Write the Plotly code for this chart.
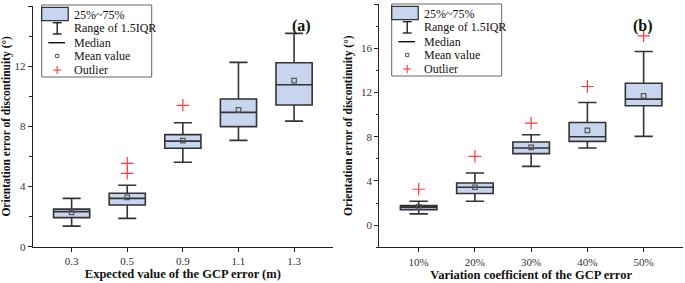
import plotly.graph_objects as go

# ---------------- data ----------------
cats_a = ["0.3", "0.5", "0.9", "1.1", "1.3"]
q1_a = [1.93, 2.77, 6.54, 7.98, 9.42]
med_a = [2.33, 3.21, 7.02, 8.93, 10.77]
q3_a = [2.50, 3.55, 7.45, 9.82, 12.23]
low_a = [1.37, 1.88, 5.61, 7.07, 8.35]
high_a = [3.21, 4.08, 8.24, 12.25, 14.18]
mean_a = [2.28, 3.28, 7.05, 9.09, 11.04]
out_x_a = ["0.5", "0.5", "0.9"]
out_y_a = [5.54, 4.88, 9.40]

cats_b = ["10%", "20%", "30%", "40%", "50%"]
q1_b = [1.41, 2.86, 6.47, 7.58, 10.80]
med_b = [1.62, 3.43, 6.98, 8.00, 11.40]
q3_b = [1.77, 3.82, 7.52, 9.29, 12.84]
low_b = [1.02, 2.17, 5.32, 6.98, 8.03]
high_b = [2.17, 4.72, 8.18, 11.10, 15.70]
mean_b = [1.65, 3.43, 7.04, 8.57, 11.70]
out_x_b = ["10%", "20%", "30%", "40%", "50%"]
out_y_b = [3.25, 6.23, 9.23, 12.54, 17.11]

legend_labels = ["25%~75%", "Range of 1.5IQR", "Median", "Mean value", "Outlier"]

# ---------------- style ----------------
FONT = "Liberation Serif, Times New Roman, serif"
BOX_FILL = "#c7d6ee"
BOX_LINE = "#333333"
RED = "#ff3b3b"
W, H = 685, 283

fig = go.Figure()


def add_panel(cats, q1, med, q3, low, high, mean, ox, oy, xa, ya):
    fig.add_trace(go.Box(
        x=cats, q1=q1, median=med, q3=q3, lowerfence=low, upperfence=high,
        fillcolor=BOX_FILL, line=dict(color=BOX_LINE, width=1.6),
        width=0.65, whiskerwidth=0.5, boxpoints=False,
        xaxis=xa, yaxis=ya, showlegend=False, hoverinfo="skip"))
    fig.add_trace(go.Scatter(
        x=cats, y=mean, mode="markers",
        marker=dict(symbol="square-open", size=4.5, color="#555555",
                    line=dict(width=1.2, color="#555555")),
        xaxis=xa, yaxis=ya, showlegend=False, hoverinfo="skip"))
    fig.add_trace(go.Scatter(
        x=ox, y=oy, mode="markers",
        marker=dict(symbol="cross-thin-open", size=9, color=RED,
                    line=dict(width=1.2, color=RED)),
        xaxis=xa, yaxis=ya, showlegend=False, hoverinfo="skip"))


add_panel(cats_a, q1_a, med_a, q3_a, low_a, high_a, mean_a, out_x_a, out_y_a, "x", "y")
add_panel(cats_b, q1_b, med_b, q3_b, low_b, high_b, mean_b, out_x_b, out_y_b, "x2", "y2")

axis_common = dict(
    showline=True, linecolor="#222222", linewidth=1.2, mirror=False,
    ticks="outside", ticklen=4, tickwidth=1, tickcolor="#222222",
    tickfont=dict(family=FONT, size=11, color="#333333"),
    showgrid=False, zeroline=False, automargin=False,
)


def xd(a, b):
    return [a / W, b / W]


def yd(top, bottom):
    return [(H - bottom) / H, (H - top) / H]


xtitle_font = dict(family=FONT, size=12.5, color="#111111")
ytitle_font = dict(family=FONT, size=11.5, color="#111111")

fig.update_layout(
    width=W, height=H,
    margin=dict(l=0, r=0, t=0, b=0),
    paper_bgcolor="white", plot_bgcolor="white",
    font=dict(family=FONT, color="#111111"),
    xaxis=dict(domain=xd(32.7, 333), range=[-0.7, 4.7], type="category",
               title=dict(text="<b>Expected value of the GCP error (m)</b>",
                          font=xtitle_font, standoff=3),
               anchor="y", **axis_common),
    yaxis=dict(domain=yd(6, 246.7), range=[0, 16], dtick=4,
               minor=dict(dtick=2, ticks="outside", ticklen=2.5, tickcolor="#222222"),
               title=dict(text="<b>Orientation error of discontinuity (°)</b>",
                          font=ytitle_font, standoff=5),
               anchor="x", **axis_common),
    xaxis2=dict(domain=xd(379.3, 683), range=[-0.7, 4.7], type="category",
                title=dict(text="<b>Variation coefficient of the GCP error</b>",
                           font=xtitle_font, standoff=3),
                anchor="y2", **axis_common),
    yaxis2=dict(domain=yd(4, 247.3), range=[-2, 20], dtick=4, tick0=0,
                minor=dict(dtick=2, ticks="outside", ticklen=2.5, tickcolor="#222222"),
                title=dict(text="<b>Orientation error of discontinuity (°)</b>",
                           font=ytitle_font, standoff=5),
                anchor="x2", **axis_common),
)

# panel labels
fig.add_annotation(text="<b>(a)</b>", x=301.5 / W, y=1 - 15 / H, xref="paper", yref="paper",
                   showarrow=False, font=dict(family=FONT, size=16, color="#111111"))
fig.add_annotation(text="<b>(b)</b>", x=655 / W, y=1 - 15 / H, xref="paper", yref="paper",
                   showarrow=False, font=dict(family=FONT, size=16, color="#111111"))


# ---------------- custom legends (pixel coords -> paper) ----------------
def px(x):
    return x / W


def py(y):
    return 1 - y / H


def legend_at(x0, y0):
    fig.add_shape(type="rect", xref="paper", yref="paper",
                  x0=px(x0), x1=px(x0 + 110), y0=py(y0), y1=py(y0 + 72),
                  line=dict(color="#666666", width=1), fillcolor="white", layer="above")
    fig.add_shape(type="rect", xref="paper", yref="paper",
                  x0=px(x0), x1=px(x0 + 26.5), y0=py(y0 + 2.3), y1=py(y0 + 15.7),
                  line=dict(color=BOX_LINE, width=1.3), fillcolor=BOX_FILL, layer="above")
    cx = x0 + 15.5
    fig.add_shape(type="line", xref="paper", yref="paper",
                  x0=px(cx), x1=px(cx), y0=py(y0 + 17.7), y1=py(y0 + 29),
                  line=dict(color="#111111", width=1.3), layer="above")
    for yy in (y0 + 17.7, y0 + 29):
        fig.add_shape(type="line", xref="paper", yref="paper",
                      x0=px(cx - 4.5), x1=px(cx + 4.5), y0=py(yy), y1=py(yy),
                      line=dict(color="#111111", width=1.3), layer="above")
    fig.add_shape(type="line", xref="paper", yref="paper",
                  x0=px(x0 + 6.6), x1=px(x0 + 23.3), y0=py(y0 + 37.7), y1=py(y0 + 37.7),
                  line=dict(color="#111111", width=1.4), layer="above")
    fig.add_shape(type="rect", xref="paper", yref="paper",
                  x0=px(cx - 1.6), x1=px(cx + 1.6), y0=py(y0 + 49.4), y1=py(y0 + 52.6),
                  line=dict(color="#555555", width=1), layer="above")
    fig.add_shape(type="line", xref="paper", yref="paper",
                  x0=px(cx - 4), x1=px(cx + 4), y0=py(y0 + 65), y1=py(y0 + 65),
                  line=dict(color=RED, width=1.1), layer="above")
    fig.add_shape(type="line", xref="paper", yref="paper",
                  x0=px(cx), x1=px(cx), y0=py(y0 + 61), y1=py(y0 + 69),
                  line=dict(color=RED, width=1.1), layer="above")
    ys = [y0 + 10, y0 + 23.3, y0 + 37.7, y0 + 51, y0 + 65]
    for lab, yy in zip(legend_labels, ys):
        fig.add_annotation(text=lab, x=px(x0 + 30), y=py(yy), xref="paper", yref="paper",
                           xanchor="left", yanchor="middle", showarrow=False,
                           font=dict(family=FONT, size=12, color="#111111"))


legend_at(41.7, 5)
legend_at(391.7, 4)

fig.write_html("out.html",
               config={"displayModeBar": False},
               post_script="document.body.style.margin='0';document.body.style.overflow='hidden';")
